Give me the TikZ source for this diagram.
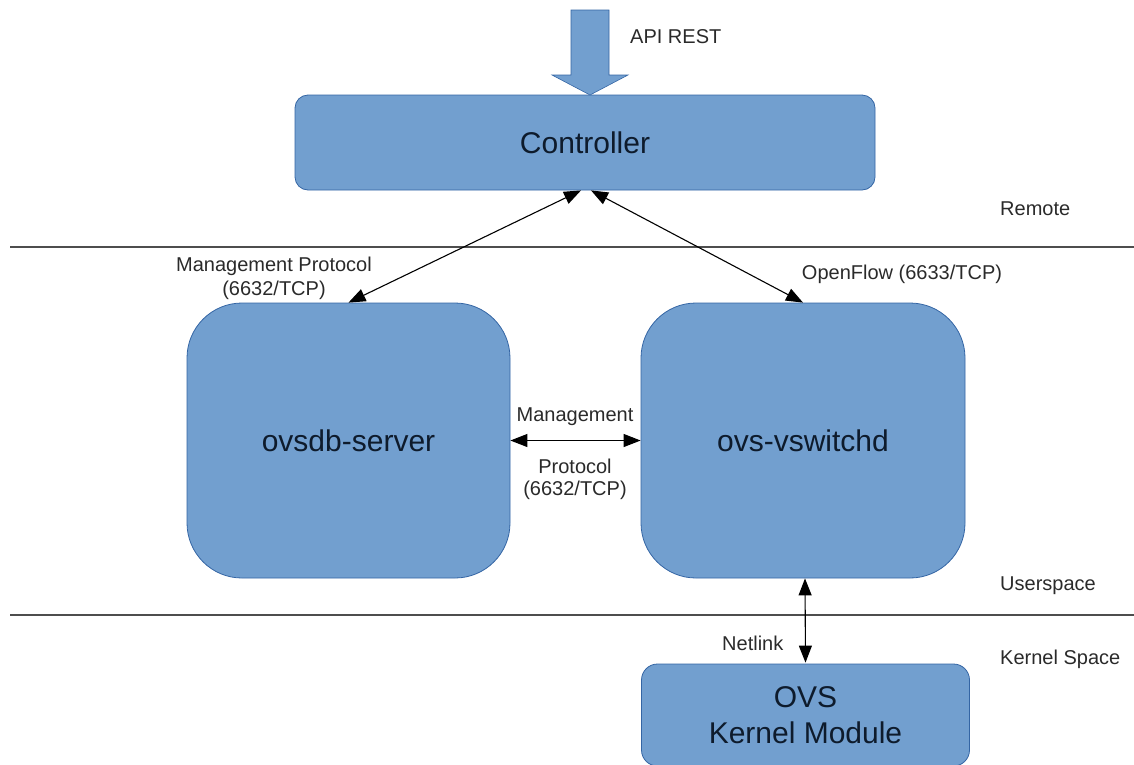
\documentclass[tikz,border=0pt]{standalone}
\usepackage{fontspec}
\setmainfont{Liberation Sans}
\usetikzlibrary{arrows.meta}
\definecolor{boxfill}{HTML}{729FCF}
\definecolor{boxline}{HTML}{3465A4}
\definecolor{boxtext}{HTML}{0E1B2C}
\definecolor{lbltext}{HTML}{2A2A2A}
\definecolor{sepcol}{HTML}{4D4D4D}
\tikzset{
  box/.style={draw=boxline, fill=boxfill, line width=0.8pt, text=boxtext,
    font=\fontsize{30}{35}\selectfont, align=center, inner sep=0pt},
  lbl/.style={text=lbltext, font=\fontsize{20}{24}\selectfont, align=center, inner sep=0pt},
  biarrow/.style={line width=1.1pt, {Triangle[length=17pt,width=13pt]}-{Triangle[length=17pt,width=13pt]}},
  sepline/.style={draw=sepcol, line width=1.2pt}
}
\begin{document}
\begin{tikzpicture}[x=1pt,y=-1pt]
\useasboundingbox (0,0) rectangle (1134,764);
% separator lines
\draw[sepline] (10,247) -- (1134,247);
\draw[sepline] (10,615) -- (1134,615);
% boxes
\node[box, rounded corners=13pt, minimum width=580pt, minimum height=95pt] (ctrl) at (585,142.5) {Controller};
\node[box, rounded corners=55pt, minimum width=323pt, minimum height=275pt] (ovsdb) at (348.5,440.5) {ovsdb-server};
\node[box, rounded corners=55pt, minimum width=324pt, minimum height=275pt] (vsw) at (803,440.5) {ovs-vswitchd};
\node[box, rounded corners=16pt, minimum width=328pt, minimum height=102pt, font=\fontsize{30}{36}\selectfont] (kern) at (805.5,715) {OVS\\Kernel Module};
% big API arrow
\fill[boxfill, draw=boxline, line width=0.6pt] (571,10) -- (609,10) -- (609,75) -- (628,75) -- (590,95) -- (552,75) -- (571,75) -- cycle;
\node[lbl, anchor=west] (api) at (630,37) {API REST};
% connectors
\draw[biarrow] ([xshift=-4pt]ctrl.south) -- (ovsdb.north);
\draw[biarrow] ([xshift=6pt]ctrl.south) -- (vsw.north);
\draw[biarrow] (ovsdb.east) -- (vsw.west);
\draw[biarrow] ([xshift=2pt]vsw.south) -- ([yshift=1pt]kern.north);
% labels
\node[lbl] (mp1) at (274,266) {Management Protocol};
\node[lbl] (mp2) at (274,290) {(6632/TCP)};
\node[lbl] (of) at (902,274) {OpenFlow (6633/TCP)};
\node[lbl] (m1) at (575,417) {Management};
\node[lbl] (m2) at (575,466) {Protocol};
\node[lbl] (m3) at (575,490) {(6632/TCP)};
\node[lbl, anchor=west] (nl) at (722,643) {Netlink};
\node[lbl, anchor=west] (rem) at (1000,209) {Remote};
\node[lbl, anchor=west] (usr) at (1000,586) {Userspace};
\node[lbl, anchor=west] (ker) at (1000,659) {Kernel Space};
\end{tikzpicture}
\end{document}
